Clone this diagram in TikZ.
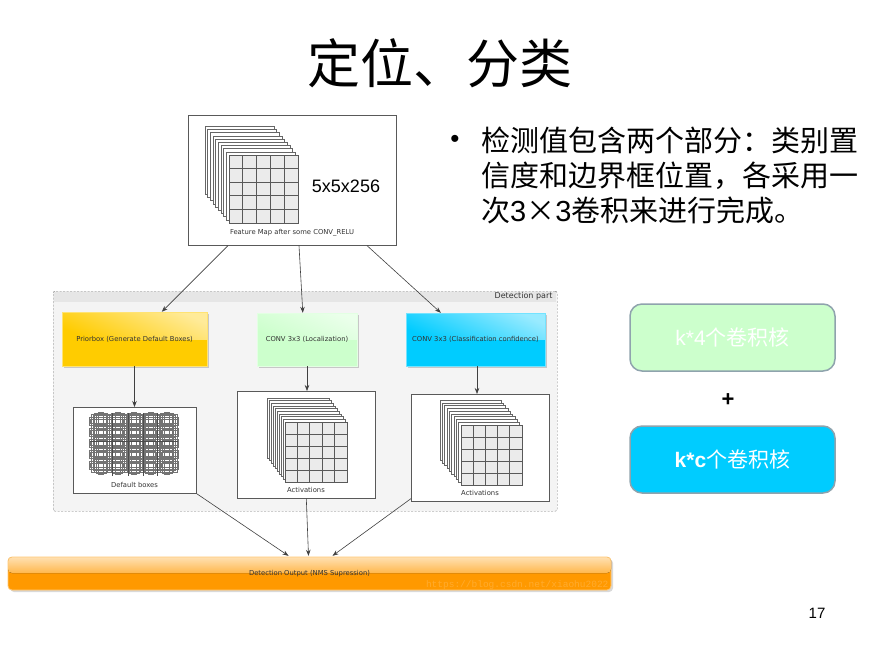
\documentclass[tikz,border=0pt]{standalone}
\usepackage{fontspec}
\setmainfont{Liberation Sans}
\newfontfamily\cjk{Noto Sans CJK SC}
\newfontfamily\dv{DejaVu Sans}
\newfontfamily\wmono{Liberation Mono}
\usetikzlibrary{arrows.meta,calc}
\definecolor{ygold}{HTML}{FFCC00}
\definecolor{lgreen}{HTML}{CCFFCC}
\definecolor{cyanb}{HTML}{00CCFF}
\definecolor{orng}{HTML}{FF9900}
\definecolor{bordgray}{HTML}{8FA3AD}
\definecolor{regfill}{HTML}{F4F4F4}
\definecolor{bandfill}{HTML}{E6E6E6}
\newcommand\glossbox[7]{%
  \fill[black!22] (#2+2,#3+2) rectangle ++(#4,#5);
  \fill[#6] (#2,#3) rectangle ++(#4,#5);
  \fill[top color=#6!40!white, bottom color=#6, shading angle=-25] (#2,#3) rectangle ++(#4,#5/2);
  \draw[#6!55!white, line width=0.6] (#2,#3) rectangle ++(#4,#5);
  \node[minimum width=#4, minimum height=#5, inner sep=0pt, font=\tinyf, text=black!80] (#1) at (#2+#4/2,#3+#5/2) {#7};
}
\newcommand\fmstack[7]{%
  \foreach \i in {#5,...,1} {
    \filldraw[fill=white, draw=black!60, line width=0.5] (#1-\i*#6, #2-\i*#7) rectangle ++(#3,#4);
  }
  \filldraw[fill=black!8, draw=black!65, line width=0.9] (#1,#2) rectangle ++(#3,#4);
  \foreach \k in {1,...,4} {
    \draw[black!65, line width=0.9] (#1+\k*#3/5, #2) -- ++(0,#4);
    \draw[black!65, line width=0.9] (#1, #2+\k*#4/5) -- ++(#3,0);
  }
}
\newcommand\tinyf{\dv\fontsize{6.8}{8}\selectfont}
\tikzset{
  panel/.style={draw=black!65, fill=white, line width=0.6, minimum width=#1, anchor=north west, inner sep=0pt},
  conn/.style={draw=black!75, line width=0.6, -{Stealth[length=6pt,width=4.5pt]}},
  lbl/.style={font=\tinyf, text=black!80},
  dbox/.style={draw=black!55, line width=0.45},
  kbox/.style={draw=bordgray, line width=1.5, rounded corners=12, minimum width=205, minimum height=67, text=white, font=\fontsize{21}{21}\selectfont}
}
\begin{document}
\begin{tikzpicture}[x=1pt,y=-1pt]
\useasboundingbox[fill=white] (0,0) rectangle (877,657);

% title
\node (title) at (440,63) {\cjk\fontsize{53}{53}\selectfont 定位、分类};

% bullet text
\node[anchor=center, font=\fontsize{26}{26}\selectfont] (bul) at (455,141) {•};
\node[anchor=west, inner sep=0pt] (b1) at (481,140) {\cjk\fontsize{29}{29}\selectfont 检测值包含两个部分：类别置};
\node[anchor=west, inner sep=0pt] (b2) at (481,176) {\cjk\fontsize{29}{29}\selectfont 信度和边界框位置，各采用一};
\node[anchor=west, inner sep=0pt] (b3) at (481,210) {\cjk\fontsize{29}{29}\selectfont 次{\fontspec{Liberation Sans}3}×{\fontspec{Liberation Sans}3}卷积来进行完成。};

% feature map box
\node[panel=208, minimum height=130] (fm) at (188,115) {};
\fmstack{229}{155}{69}{68}{9}{2.67}{3.2}
\node[font=\fontsize{18}{18}\selectfont] (dims) at (346,186) {5x5x256};
\node[lbl] (fml) at (292,233) {Feature Map after some CONV\_RELU};

% detection region
\fill[regfill] (53,291) rectangle (557,511);
\fill[bandfill] (54,292) rectangle (556,302);
\node[draw=black!55, dashed, dash pattern=on 2pt off 1.5pt, rounded corners=2pt, minimum width=504, minimum height=220, anchor=north west, inner sep=0pt] (det) at (53,291) {};
\node[anchor=east, font=\dv\fontsize{8}{8}\selectfont, text=black!80] (detl) at (556,296.5) {Detection part};

% colored boxes
\glossbox{prior}{62}{312}{145}{54}{ygold}{Priorbox (Generate Default Boxes)}
\glossbox{loc}{257}{313}{100}{53}{lgreen}{CONV 3x3 (Localization)}
\glossbox{cls}{406}{313}{139}{53}{cyanb}{CONV 3x3 (Classification confidence)}

% default boxes panel
\node[panel=123, minimum height=86] (db) at (73,407) {};
\foreach \i in {0,...,4} {
  \foreach \j in {0,...,4} {
    \pgfmathsetmacro\cx{101+16.5*\i}
    \pgfmathsetmacro\cy{421+11*\j}
    \draw[dbox] (\cx-8.25,\cy-5.5) rectangle (\cx+8.25,\cy+5.5);
    \draw[dbox] (\cx-11.5,\cy-4) rectangle (\cx+11.5,\cy+4);
    \draw[dbox] (\cx-5,\cy-8) rectangle (\cx+5,\cy+8);
    \draw[dbox] (\cx-6.5,\cy-7.5) rectangle (\cx+6.5,\cy+7.5);
    \draw[dbox] (\cx-10,\cy-6.8) rectangle (\cx+10,\cy+6.8);
    \draw[dbox] (\cx-2.5,\cy-9) rectangle (\cx+2.5,\cy+9);
    \draw[dbox] (\cx-11,\cy-1.8) rectangle (\cx+11,\cy+1.8);
  }
}
\foreach \xx in {112,128,143,157} {
  \draw[black!70, line width=1] (\xx,413) -- (\xx,476);
}
\draw[black!70, line width=1] (90,441) -- (178,441);
\node[lbl] (dbl) at (134.5,485) {Default boxes};

% activation panels
\node[panel=138, minimum height=107] (actm) at (237,391) {};
\fmstack{285}{422}{62}{60}{9}{2}{2.67}
\node[lbl] (actml) at (306,490) {Activations};

\node[panel=138, minimum height=107] (actr) at (411,394) {};
\fmstack{461}{425}{61}{60}{9}{2.33}{2.78}
\node[lbl] (actrl) at (480,493) {Activations};

% output bar
\fill[black!15, rounded corners=4] (10,559) rectangle (613,592);
\fill[orng, rounded corners=4] (8,557) rectangle (611,590);
\fill[top color=orng!30!white, bottom color=orng!70!white, rounded corners=4] (8,557) rectangle (611,573);
\draw[orng!55!white, line width=0.8, rounded corners=4] (8,557) rectangle (611,590);
\node[minimum width=603, minimum height=33, inner sep=0pt, font=\tinyf, text=black!80] (out) at (309.5,573.5) {Detection Output (NMS Supression)};
\node[anchor=east, font=\wmono\fontsize{9.5}{10}\selectfont, text=white, opacity=0.18] (wm) at (612,585) {https://blog.csdn.net/xiaohu2022};

% connectors
\draw[conn] ($(fm.south west)+(40,0)$) -- ($(prior.north west)+(100,0)$);
\draw[conn] ($(fm.south west)+(111,0)$) -- ($(loc.north west)+(46,0)$);
\draw[conn] ($(fm.south west)+(179,0)$) -- ($(cls.north west)+(35,0)$);
\draw[conn] (prior.south) -- (prior.south |- db.north);
\draw[conn] (loc.south) -- (loc.south |- actm.north);
\draw[conn] ($(cls.south)+(1.5,0)$) -- ($(cls.south |- actr.north)+(1.5,0)$);
\draw[conn] (db.south east) -- ($(out.north)+(-21,-1)$);
\draw[conn] (actm.south) -- ($(out.north)+(-1,-1)$);
\draw[conn] ($(actr.south west)+(0,-3)$) -- ($(out.north)+(23,-1)$);

% right side boxes
\node[kbox, fill=lgreen] (k4) at (732.5,337.5) {k*4{\cjk 个卷积核}};
\node[font=\bfseries\fontsize{22}{22}\selectfont] (plus) at (728,400) {+};
\node[kbox, fill=cyanb] (kc) at (732.5,459.5) {{\bfseries k*c}{\cjk 个卷积核}};

% page number
\node[font=\fontsize{15}{15}\selectfont] (pg) at (817,613) {17};
\end{tikzpicture}
\end{document}
